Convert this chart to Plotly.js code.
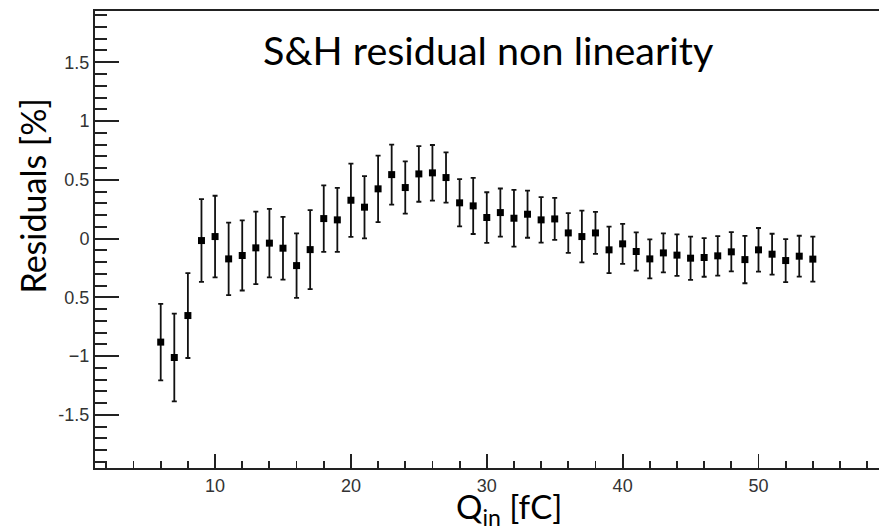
<!DOCTYPE html>
<html>
<head>
<meta charset="utf-8">
<script src="https://cdn.plot.ly/plotly-3.0.1.min.js"></script>
<style>html,body{margin:0;padding:0;background:#fff;}#chart{width:879px;height:532px;}</style>
</head>
<body>
<div id="chart"></div>
<script>
const qin = [6,7,8,9,10,11,12,13,14,15,16,17,18,19,20,21,22,23,24,25,26,27,28,29,30,31,32,33,34,35,36,37,38,39,40,41,42,43,44,45,46,47,48,49,50,51,52,53,54];
const residuals = [-0.881,-1.012,-0.655,-0.017,0.017,-0.173,-0.144,-0.079,-0.039,-0.082,-0.230,-0.094,0.170,0.159,0.326,0.267,0.423,0.544,0.434,0.550,0.559,0.519,0.304,0.278,0.179,0.221,0.173,0.207,0.159,0.167,0.048,0.017,0.048,-0.096,-0.045,-0.110,-0.173,-0.122,-0.141,-0.167,-0.161,-0.147,-0.113,-0.179,-0.096,-0.133,-0.187,-0.150,-0.175];
const errors = [0.325,0.374,0.361,0.352,0.347,0.309,0.298,0.309,0.292,0.267,0.274,0.336,0.283,0.272,0.312,0.265,0.283,0.255,0.222,0.237,0.237,0.214,0.201,0.239,0.215,0.205,0.242,0.200,0.194,0.179,0.169,0.220,0.179,0.198,0.170,0.162,0.166,0.166,0.177,0.184,0.164,0.168,0.167,0.201,0.186,0.174,0.183,0.174,0.191];
const yTickVals = [-1.5,-1,-0.5,0,0.5,1,1.5];
const yTickText = ["-1.5","\u22121","0.5","0","0.5","1","1.5"];
const xTickVals = [10,20,30,40,50];
const xTickText = ["10","20","30","40","50"];
const titleText = "S&amp;H residual non linearity";
const yTitleText = "Residuals [%]";
const xTitleText = "Q<sub>in</sub> [fC]";

const trace = {
  x: qin, y: residuals, type: 'scatter', mode: 'markers',
  marker: {symbol: 'square', size: 7, color: '#000'},
  error_y: {type: 'data', array: errors, visible: true, color: '#111', thickness: 1.8, width: 2.5},
  hoverinfo: 'skip', showlegend: false
};
const tickFont = {family: 'Liberation Sans', size: 18, color: '#333'};
const layout = {
  width: 879, height: 532,
  margin: {l: 95, r: 0, t: 11, b: 64, pad: 0},
  paper_bgcolor: '#fff', plot_bgcolor: '#fff',
  showlegend: false,
  xaxis: {
    range: [1.163, 58.87], tickmode: 'array', tickvals: xTickVals, ticktext: xTickText,
    ticks: 'inside', ticklen: 14, tickwidth: 1.8, tickcolor: '#222',
    minor: {tickmode: 'linear', tick0: 0, dtick: 2, ticks: 'inside', ticklen: 7, tickwidth: 1.8, tickcolor: '#222', showgrid: false},
    showline: true, linewidth: 2, linecolor: '#222', mirror: true,
    showgrid: false, zeroline: false, tickfont: tickFont, fixedrange: true
  },
  yaxis: {
    range: [-1.952, 1.936], tickmode: 'array', tickvals: yTickVals, ticktext: yTickText,
    ticks: 'inside', ticklen: 24, tickwidth: 2, tickcolor: '#222',
    minor: {tickmode: 'linear', tick0: 0, dtick: 0.1, ticks: 'inside', ticklen: 12, tickwidth: 2, tickcolor: '#222', showgrid: false},
    showline: true, linewidth: 2, linecolor: '#222', mirror: false,
    showgrid: false, zeroline: false, tickfont: tickFont, fixedrange: true
  },
  annotations: [
    {text: titleText, xref: 'paper', yref: 'paper', x: 0.5024, y: 0.915, xanchor: 'center', yanchor: 'middle', showarrow: false,
     font: {family: 'Lato', size: 39.5, color: '#000'}},
    {text: yTitleText, xref: 'paper', yref: 'paper', x: -0.0795, y: 0.5955, xanchor: 'center', yanchor: 'middle', textangle: -90, showarrow: false,
     font: {family: 'Lato', size: 34, color: '#000'}},
    {text: xTitleText, xref: 'paper', yref: 'paper', x: 0.528, y: -0.088, xanchor: 'center', yanchor: 'middle', showarrow: false,
     font: {family: 'Lato', size: 33, color: '#000'}}
  ]
};
Plotly.newPlot('chart', [trace], layout, {displayModeBar: false, staticPlot: true});
</script>
</body>
</html>
